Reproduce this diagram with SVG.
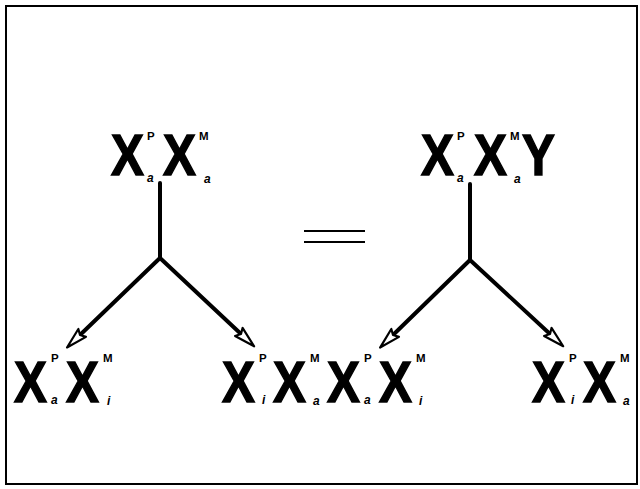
<svg xmlns="http://www.w3.org/2000/svg" width="640" height="489" viewBox="0 0 640 489">
<style>
text{font-family:"Liberation Sans",Arial,sans-serif;font-weight:bold;fill:#000}
.big{font-size:58px;stroke:#000;stroke-width:1.5}
.sup{font-size:11.5px}
.sub{font-style:italic;font-size:12px}
.ln{stroke:#000;stroke-width:4;fill:none;stroke-linecap:round}
.eq{stroke:#000;stroke-width:2}
</style>
<defs>
<marker id="arr" markerUnits="userSpaceOnUse" markerWidth="24" markerHeight="14" refX="4" refY="6" orient="auto" overflow="visible">
<path d="M22,6 L1,0.5 L4,6 L1,11.5 Z" fill="#fff" stroke="#000" stroke-width="2.2" stroke-linejoin="round"/>
</marker>
</defs>
<rect x="6" y="6" width="631" height="478" fill="#fff" stroke="#000" stroke-width="2"/>

<g id="top-left">
<text class="big" transform="translate(111 175) scale(0.85 1)">X</text>
<text class="sup" x="147" y="140">P</text>
<text class="sub" x="147" y="182">a</text>
<text class="big" transform="translate(163 175) scale(0.85 1)">X</text>
<text class="sup" x="199" y="140">M</text>
<text class="sub" x="204" y="183">a</text>
</g>

<g id="top-right">
<text class="big" transform="translate(421 175) scale(0.85 1)">X</text>
<text class="sup" x="457" y="140">P</text>
<text class="sub" x="457" y="182">a</text>
<text class="big" transform="translate(474 175) scale(0.85 1)">X</text>
<text class="sup" x="510" y="140">M</text>
<text class="sub" x="514" y="183">a</text>
<text class="big" transform="translate(522 175) scale(0.85 1)">Y</text>
</g>

<g id="equals">
<line class="eq" x1="304" y1="231" x2="365" y2="231"/>
<line class="eq" x1="304" y1="242" x2="365" y2="242"/>
</g>

<g id="bottom-1">
<text class="big" transform="translate(14 402) scale(0.85 1)">X</text>
<text class="sup" x="51" y="362">P</text>
<text class="sub" x="51" y="404">a</text>
<text class="big" transform="translate(66 402) scale(0.85 1)">X</text>
<text class="sup" x="103" y="362">M</text>
<text class="sub" x="107" y="405">i</text>
</g>

<g id="bottom-2">
<text class="big" transform="translate(222 402) scale(0.85 1)">X</text>
<text class="sup" x="259" y="362">P</text>
<text class="sub" x="262" y="404">i</text>
<text class="big" transform="translate(273 402) scale(0.85 1)">X</text>
<text class="sup" x="310" y="362">M</text>
<text class="sub" x="313" y="405">a</text>
</g>

<g id="bottom-3">
<text class="big" transform="translate(327 402) scale(0.85 1)">X</text>
<text class="sup" x="364" y="362">P</text>
<text class="sub" x="364" y="404">a</text>
<text class="big" transform="translate(379 402) scale(0.85 1)">X</text>
<text class="sup" x="416" y="362">M</text>
<text class="sub" x="419" y="405">i</text>
</g>

<g id="bottom-4">
<text class="big" transform="translate(532 402) scale(0.85 1)">X</text>
<text class="sup" x="569" y="362">P</text>
<text class="sub" x="571" y="404">i</text>
<text class="big" transform="translate(583 402) scale(0.85 1)">X</text>
<text class="sup" x="620" y="362">M</text>
<text class="sub" x="623" y="405">a</text>
</g>

<g id="connectors">
<line class="ln" x1="160" y1="183" x2="160" y2="258"/>
<line class="ln" x1="160" y1="258" x2="80" y2="335" stroke-width="4.5" marker-end="url(#arr)"/>
<line class="ln" x1="160" y1="258" x2="241" y2="334" marker-end="url(#arr)"/>
<line class="ln" x1="470" y1="184" x2="470" y2="260"/>
<line class="ln" x1="470" y1="260" x2="393" y2="335" stroke-width="4.5" marker-end="url(#arr)"/>
<line class="ln" x1="470" y1="260" x2="550" y2="334" marker-end="url(#arr)"/>
</g>
</svg>
